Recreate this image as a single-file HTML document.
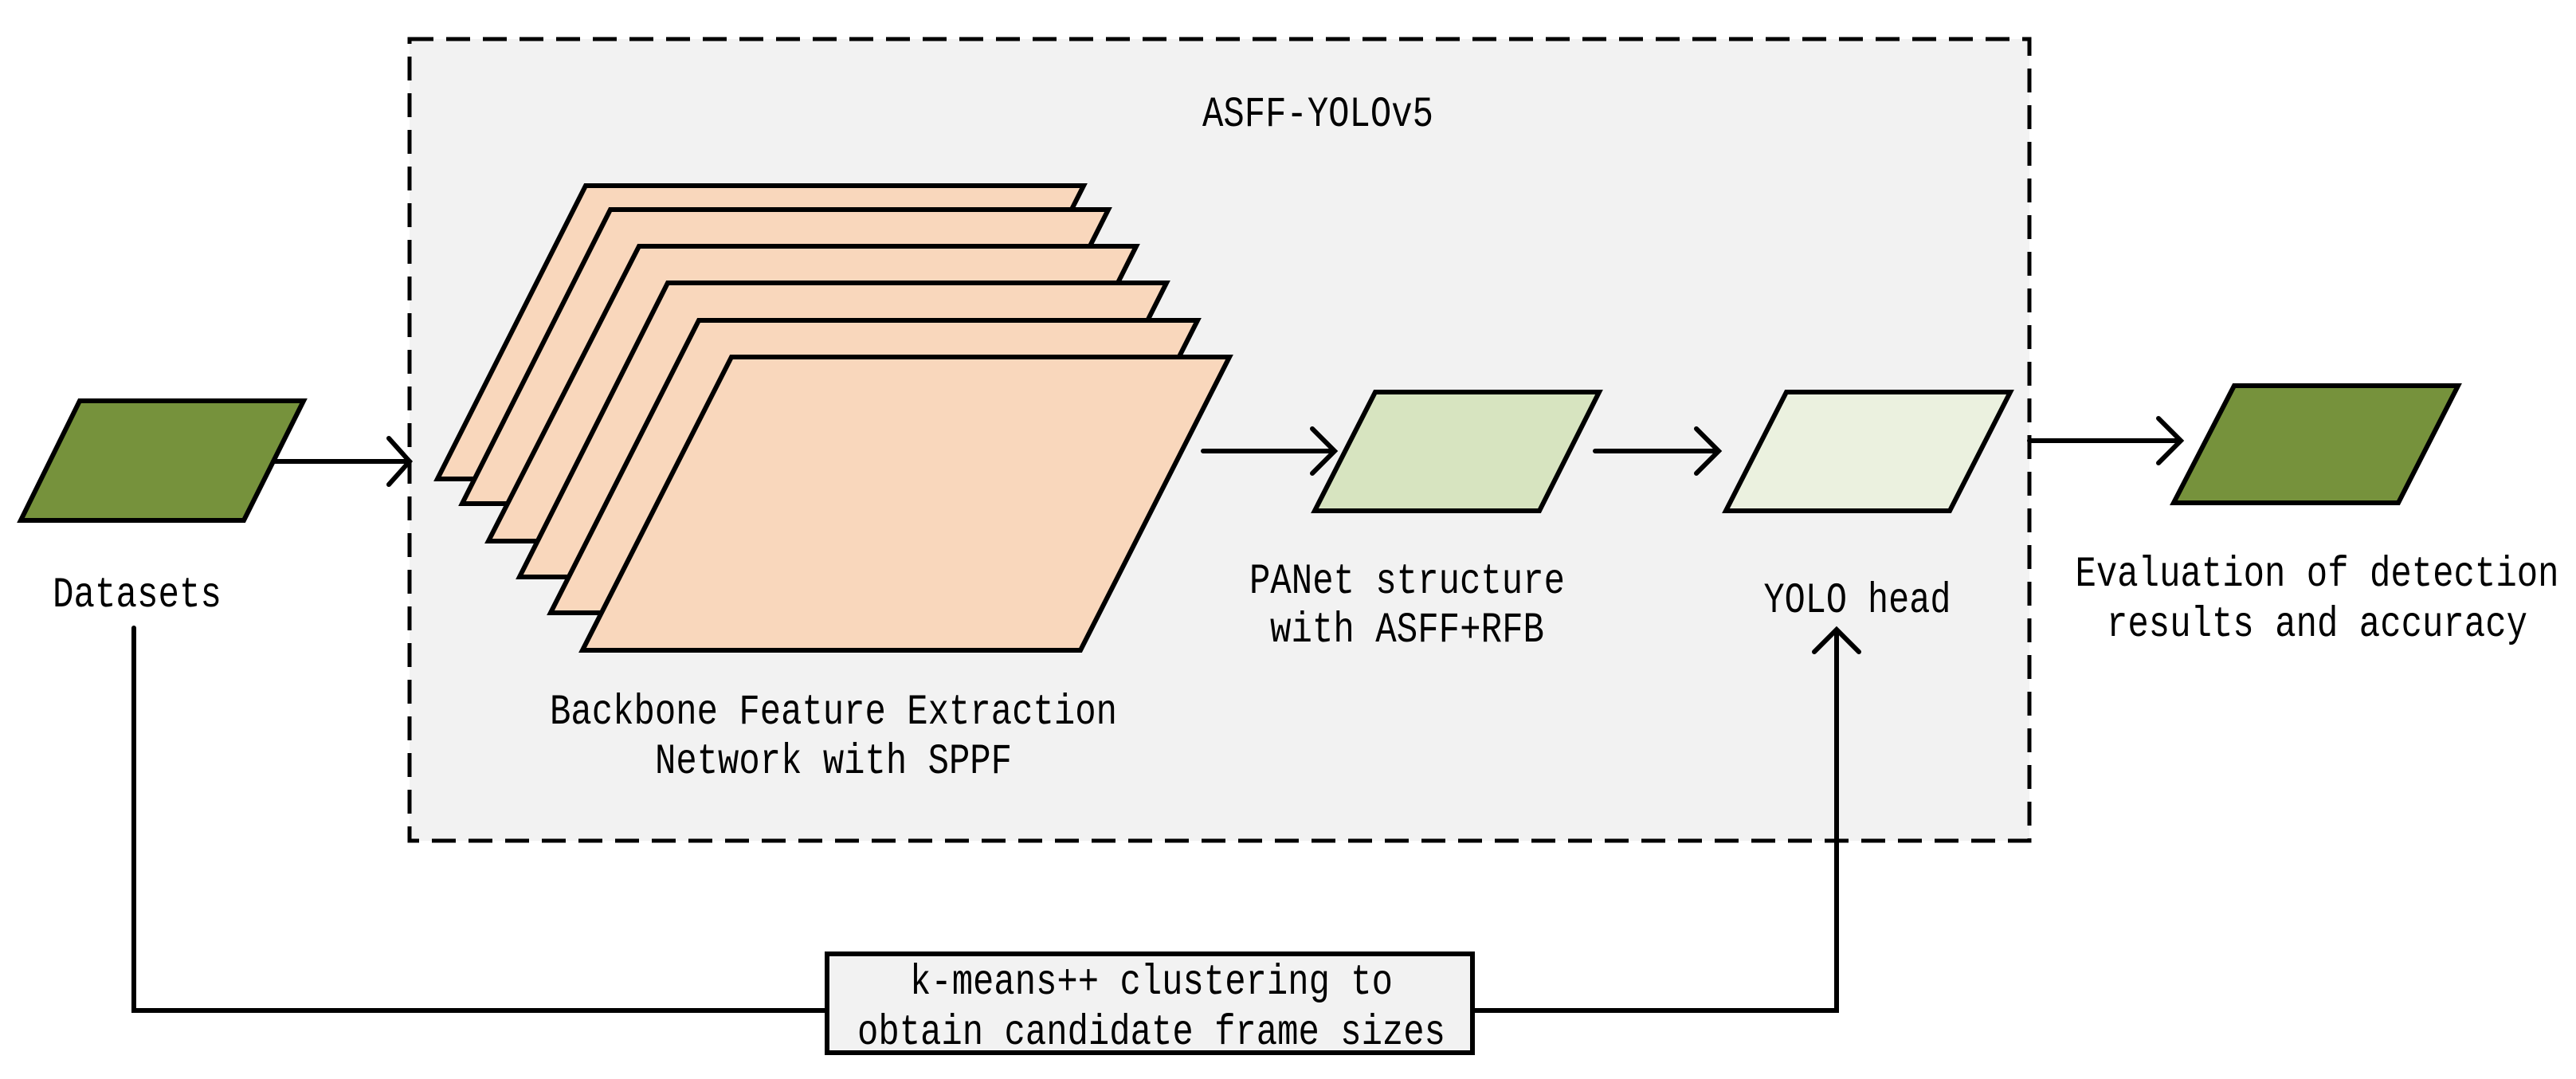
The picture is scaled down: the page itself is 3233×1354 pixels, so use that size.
<!DOCTYPE html>
<html><head><meta charset="utf-8"><style>html,body{margin:0;padding:0;background:#fff;overflow:hidden}svg{display:block}</style></head>
<body>
<svg width="3233" height="1354" viewBox="0 0 3233 1354" xmlns="http://www.w3.org/2000/svg" font-family="Liberation Mono, monospace" font-size="54" fill="#000">
<rect x="514" y="49" width="2033" height="1006" fill="#f2f2f2" stroke="#000" stroke-width="5" stroke-dasharray="30 16"/>
<g stroke="#000" stroke-width="6" fill="#f9d7bc" stroke-linejoin="miter">
<polygon points="735,233 1360,233 1174,601 549,601"/>
<polygon points="766,263 1391,263 1205,632 580,632"/>
<polygon points="802,309 1426,309 1240,679 613,679"/>
<polygon points="838,355 1464,355 1278,724 652,724"/>
<polygon points="877,402 1503,402 1317,769 691,769"/>
<polygon points="918,448 1543,448 1356,816 731,816"/>
<polygon points="100,503 381,503 306,653 26,653" fill="#76923c"/>
<polygon points="1726,492 2007,492 1932,641 1650,641" fill="#d7e4c0"/>
<polygon points="2242,492 2523,492 2447,641 2166,641" fill="#ebf1df"/>
<polygon points="2804,484 3085,484 3010,631 2728,631" fill="#76923c"/>
<rect x="1038" y="1197" width="810" height="124" fill="#f2f2f2"/>
</g>
<g stroke="#000" stroke-width="6" fill="none" stroke-linecap="round" stroke-linejoin="miter">
<path d="M343,579 H514"/>
<path d="M488,550 L514,579 L488,608"/>
<path d="M1510,566 H1675 M1647,538 L1675,566 L1647,594"/>
<path d="M2002,566 H2157 M2129,538 L2157,566 L2129,594"/>
<path d="M2547,553 H2737 M2709,525 L2737,553 L2709,581"/>
<path d="M168,788 V1268 H1038"/>
<path d="M1848,1268 H2305 V790 M2277,818 L2305,790 L2333,818"/>
</g>
<g text-anchor="middle">
<text x="1654" y="158" textLength="290" lengthAdjust="spacingAndGlyphs">ASFF-YOLOv5</text>
<text x="172" y="761" textLength="212" lengthAdjust="spacingAndGlyphs">Datasets</text>
<text x="1046" y="908" textLength="712" lengthAdjust="spacingAndGlyphs">Backbone Feature Extraction</text>
<text x="1046" y="970" textLength="448" lengthAdjust="spacingAndGlyphs">Network with SPPF</text>
<text x="1766" y="744" textLength="396" lengthAdjust="spacingAndGlyphs">PANet structure</text>
<text x="1766" y="805" textLength="344" lengthAdjust="spacingAndGlyphs">with ASFF+RFB</text>
<text x="2331" y="768" textLength="235" lengthAdjust="spacingAndGlyphs">YOLO head</text>
<text x="2908" y="735" textLength="607" lengthAdjust="spacingAndGlyphs">Evaluation of detection</text>
<text x="2908" y="798" textLength="528" lengthAdjust="spacingAndGlyphs">results and accuracy</text>
<text x="1445" y="1247" textLength="606" lengthAdjust="spacingAndGlyphs">k-means++ clustering to</text>
<text x="1445" y="1310" textLength="738" lengthAdjust="spacingAndGlyphs">obtain candidate frame sizes</text>
</g>
</svg>
</body></html>
